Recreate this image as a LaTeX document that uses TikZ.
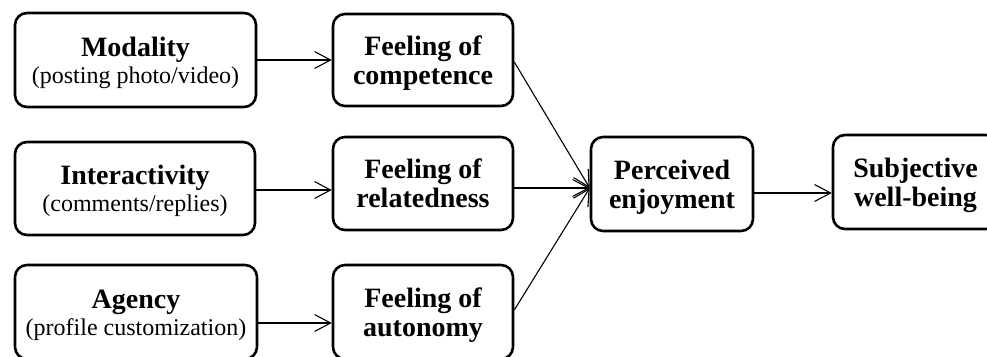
\documentclass[tikz,border=0pt]{standalone}
\usepackage{fontspec}
\setmainfont{Liberation Serif}
\usetikzlibrary{arrows.meta}
\begin{document}
\begin{tikzpicture}[x=1pt,y=-1pt,
  box/.style={draw, line width=2.6pt, rounded corners=12pt, inner sep=0pt},
  hd/.style={anchor=base, inner sep=0pt, font=\fontsize{28}{29}\selectfont\bfseries},
  sub/.style={anchor=base, inner sep=0pt, font=\fontsize{24}{27}\selectfont},
  arr/.style={line width=1.1pt, -{Straight Barb[length=16pt,width=17pt,line width=1.1pt]}}
]
\useasboundingbox (0,0) rectangle (987,356);

% predictors
\node[box, minimum width=241pt, minimum height=94pt] (mod) at (135.5,60) {};
\node[box, minimum width=240pt, minimum height=93pt] (int) at (135,188.5) {};
\node[box, minimum width=242pt, minimum height=94pt] (agc) at (136,312) {};

% needs
\node[box, minimum width=180pt, minimum height=92pt] (comp) at (423,60) {};
\node[box, minimum width=180pt, minimum height=93pt] (rel) at (423,183.5) {};
\node[box, minimum width=180pt, minimum height=94pt] (aut) at (423,312) {};

% outcomes
\node[box, minimum width=162pt, minimum height=94pt] (perc) at (672,184) {};
\node[box, minimum width=165pt, minimum height=94pt] (swb) at (915.5,182) {};

% box texts: a bold title line and a second line
\node[hd]  (mod-a) at ([yshift=4pt]mod.center)   {Modality};
\node[sub] (mod-b) at ([yshift=-23pt]mod.center) {(posting photo/video)};
\node[hd]  (int-a) at ([yshift=4pt]int.center)   {Interactivity};
\node[sub] (int-b) at ([yshift=-23pt]int.center) {(comments/replies)};
\node[hd]  (agc-a) at ([yshift=4pt]agc.center)   {Agency};
\node[sub] (agc-b) at ([yshift=-23pt]agc.center) {(profile customization)};

\node[hd] (comp-a) at ([yshift=5pt]comp.center)   {Feeling of};
\node[hd] (comp-b) at ([yshift=-24pt]comp.center) {competence};
\node[hd] (rel-a)  at ([yshift=5pt]rel.center)    {Feeling of};
\node[hd] (rel-b)  at ([yshift=-24pt]rel.center)  {relatedness};
\node[hd] (aut-a)  at ([yshift=5pt]aut.center)    {Feeling of};
\node[hd] (aut-b)  at ([yshift=-24pt]aut.center)  {autonomy};

\node[hd] (perc-a) at ([yshift=5pt]perc.center)   {Perceived};
\node[hd] (perc-b) at ([yshift=-24pt]perc.center) {enjoyment};
\node[hd] (swb-a)  at ([yshift=5pt]swb.center)    {Subjective};
\node[hd] (swb-b)  at ([yshift=-24pt]swb.center)  {well-being};

% connectors
\coordinate (pin) at (perc.west |- 0,188);
\draw[arr] (mod.east |- 0,60) -- (comp.west |- 0,60);
\draw[arr] (int.east |- 0,190) -- (rel.west |- 0,190);
\draw[arr] (agc.east |- 0,323) -- (aut.west |- 0,323);
\draw[arr] (comp.east |- 0,62) -- (pin);
\draw[arr] (rel.east |- 0,188) -- (pin);
\draw[arr] (aut.east |- 0,310) -- (pin);
\draw[arr] (perc.east |- 0,193) -- (swb.west |- 0,193);
\end{tikzpicture}
\end{document}
